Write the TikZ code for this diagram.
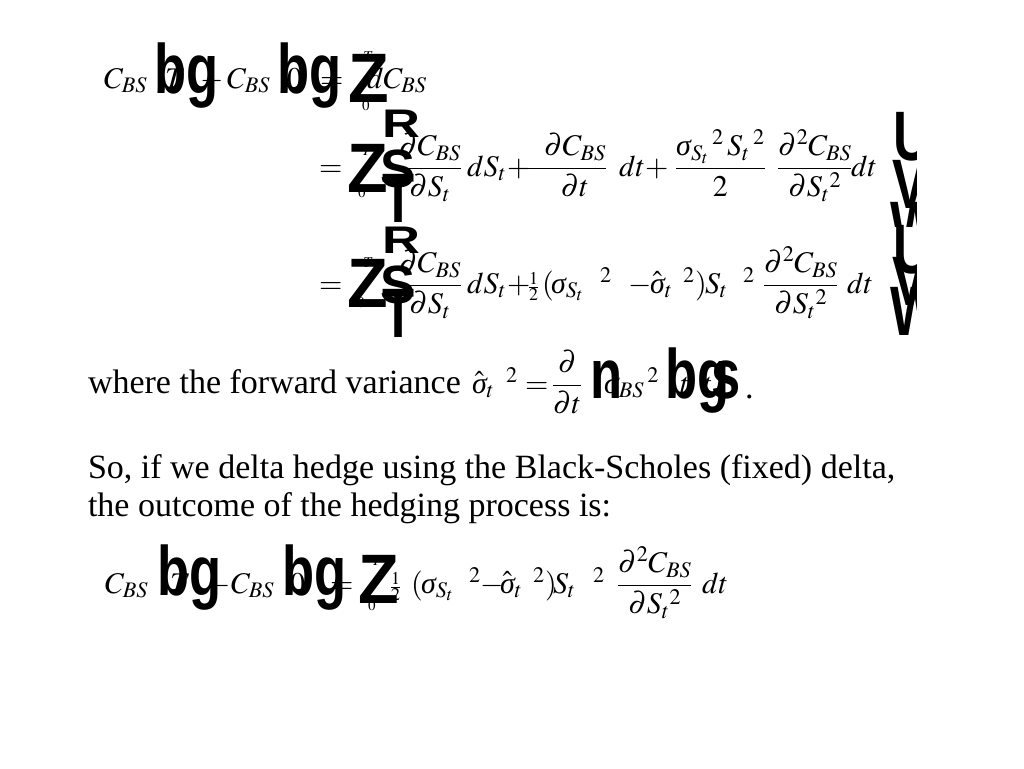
\documentclass[tikz,border=0pt]{standalone}
\usepackage{amsmath}
\usepackage{mathptmx}
\usepackage{fontspec}
\setmainfont{Liberation Serif}
\newfontfamily\mtfont{Liberation Sans}
\usepackage{graphicx}
\newcommand\brk[3]{{\mtfont\bfseries\fontsize{70}{80}\selectfont\scalebox{#1}[#2]{#3}}}
\newcommand\sg{\textit{σ}}

\begin{document}
\begin{tikzpicture}[x=1pt, y=-1pt]
\tikzset{every node/.style={anchor=base west, inner sep=0pt, outer sep=0pt, font=\fontsize{30}{36}\selectfont}, lim/.style={font=\fontsize{15}{18}\selectfont}, txt/.style={font=\fontsize{34}{40}\selectfont}}
\fill[white] (0,0) rectangle (1024,768);
\useasboundingbox (0,0) rectangle (1024,768);

% first line
\node (c1a) at (104,88) {$C_{BS}$};
\node (t1a) at (165,88) {$T$};
\node (m1a) at (200,88) {$-$};
\node (c1b) at (227,88) {$C_{BS}$};
\node (z1a) at (287,88) {$0$};
\node (e1a) at (320,88) {$=$};
\node[lim] (lt1) at (363,62) {$T$};
\node[lim] (lz1) at (362,110) {$0$};
\node (dc1) at (367,88) {$dC_{BS}$};
\node (bg1a) at (154,93) {\brk{0.75}{1}{bg}};
\node (bg1b) at (277,93) {\brk{0.75}{1}{bg}};
\node (Z1) at (348,102) {\brk{0.95}{1}{Z}};

% second line
\node (e2) at (319,176) {$=$};
\node[lim] (lt2) at (362,155) {$T$};
\node[lim] (lz2) at (358,197) {$0$};
\node (f21) at (398,176) {$\dfrac{\partial C_{BS}}{\partial S_t}$};
\node (d21) at (467,176) {$dS_t$};
\node (p21) at (507,176) {$+$};
\node (f22) at (527,176) {$\dfrac{\hspace{16pt}\partial C_{BS}}{\hspace{16pt}\partial t}$};
\node (d22) at (619,176) {$dt$};
\node (p22) at (645,176) {$+$};
\node (f23) at (675,176) {$\dfrac{\sg_{S_t}\,{}^{2}\,S_t\,{}^{2}}{2}$};
\node (f24) at (777,176) {$\dfrac{\partial^2 C_{BS}}{\partial S_t{}^{2}}$};
\node (d24) at (851,176) {$dt$};
\node (Z2) at (347,192) {\brk{0.95}{1}{Z}};
\node (R2) at (382,137) {\brk{0.75}{0.57}{R}};
\node (S2) at (380,187) {\brk{0.75}{0.77}{S}};
\node (T2) at (382,222) {\brk{0.75}{1}{T}};
\begin{scope}
\clip (880,100) rectangle (916,226);
\node (U2) at (893,160) {\brk{0.75}{1}{U}};
\node (V2) at (892,208) {\brk{0.75}{1}{V}};
\node (W2) at (890,250) {\brk{0.75}{1}{W}};
\end{scope}

% third line
\node (e3) at (319,293) {$=$};
\node[lim] (lt3) at (363,267) {$T$};
\node[lim] (lz3) at (357,307) {$0$};
\node (f31) at (398,293) {$\dfrac{\partial C_{BS}}{\partial S_t}$};
\node (d31) at (467,293) {$dS_t$};
\node (p31) at (507,293) {$+$};
\node (h31) at (528,293) {$\genfrac{}{}{}{2}{1}{2}$};
\node (o31) at (542,293) {$($};
\node (s31) at (551,293) {$\sg_{S_t}$};
\node (q31) at (600,293) {$^{2}$};
\node (m31) at (628,293) {$-$};
\node (s32) at (650,293) {$\hat{\sg}_t$};
\node (q32) at (683,293) {$^{2}$};
\node (r31) at (695,293) {$)$};
\node (S31) at (705,293) {$S_t$};
\node (q33) at (743,293) {$^{2}$};
\node (f34) at (763,293) {$\dfrac{\partial^2 C_{BS}}{\partial S_t{}^{2}}$};
\node (d34) at (847,293) {$dt$};
\node (Z3) at (347,307) {\brk{0.95}{1}{Z}};
\node (R3) at (382,253) {\brk{0.75}{0.55}{R}};
\node (S3) at (380,303) {\brk{0.75}{0.77}{S}};
\node (T3) at (382,337) {\brk{0.75}{1}{T}};
\begin{scope}
\clip (880,218) rectangle (916,337);
\node (U3) at (893,273) {\brk{0.75}{1}{U}};
\node (V3) at (892,305) {\brk{0.75}{1}{V}};
\node (W3) at (890,335) {\brk{0.75}{1}{W}};
\end{scope}

% forward variance
\node[txt] (wh) at (88,393) {where the forward variance};
\node (fv) at (472,393) {$\hat{\sg}_t$};
\node (fq) at (506,393) {$^{2}$};
\node (fe) at (525,393) {$=$};
\node (fd) at (552,393) {$\dfrac{\partial}{\partial t}$};
\node (sb) at (604,393) {$\sg_{BS}\,{}^{2}$};
\node (tv1) at (680,393) {$t$};
\node (tv2) at (703,393) {$t$};
\node (nv) at (590,398) {\brk{0.75}{1}{n}};
\node (bgv) at (665,398) {\brk{0.75}{1}{bg}};
\node (sv) at (711,398) {\brk{0.75}{1}{s}};
\node[txt] (dot) at (745,398) {.};

% text
\node[txt] (so) at (88,478) {So, if we delta hedge using the Black-Scholes (fixed) delta,};
\node[txt] (out) at (88,516) {the outcome of the hedging process is:};

% last line
\node (c4a) at (105,593) {$C_{BS}$};
\node (t4a) at (170,593) {$T$};
\node (m4a) at (207,593) {$-$};
\node (c4b) at (231,593) {$C_{BS}$};
\node (z4a) at (290,593) {$0$};
\node (e4a) at (330,593) {$=$};
\node[lim] (lt4) at (372,565) {$T$};
\node[lim] (lz4) at (368,610) {$0$};
\node (h4) at (390,593) {$\genfrac{}{}{}{2}{1}{2}$};
\node (o4) at (411,593) {$($};
\node (s41) at (421,593) {$\sg_{S_t}$};
\node (q41) at (469,593) {$^{2}$};
\node (m41) at (480,593) {$-$};
\node (s42) at (500,593) {$\hat{\sg}_t$};
\node (q42) at (533,593) {$^{2}$};
\node (r4) at (545,593) {$)$};
\node (S4) at (553,593) {$S_t$};
\node (q43) at (593,593) {$^{2}$};
\node (f4) at (617,593) {$\dfrac{\partial^2 C_{BS}}{\partial S_t{}^{2}}$};
\node (d4) at (702,593) {$dt$};
\node (bg4a) at (157,595) {\brk{0.75}{1}{bg}};
\node (bg4b) at (282,595) {\brk{0.75}{1}{bg}};
\node (Z4) at (358,603) {\brk{0.95}{1}{Z}};
\end{tikzpicture}
\end{document}
